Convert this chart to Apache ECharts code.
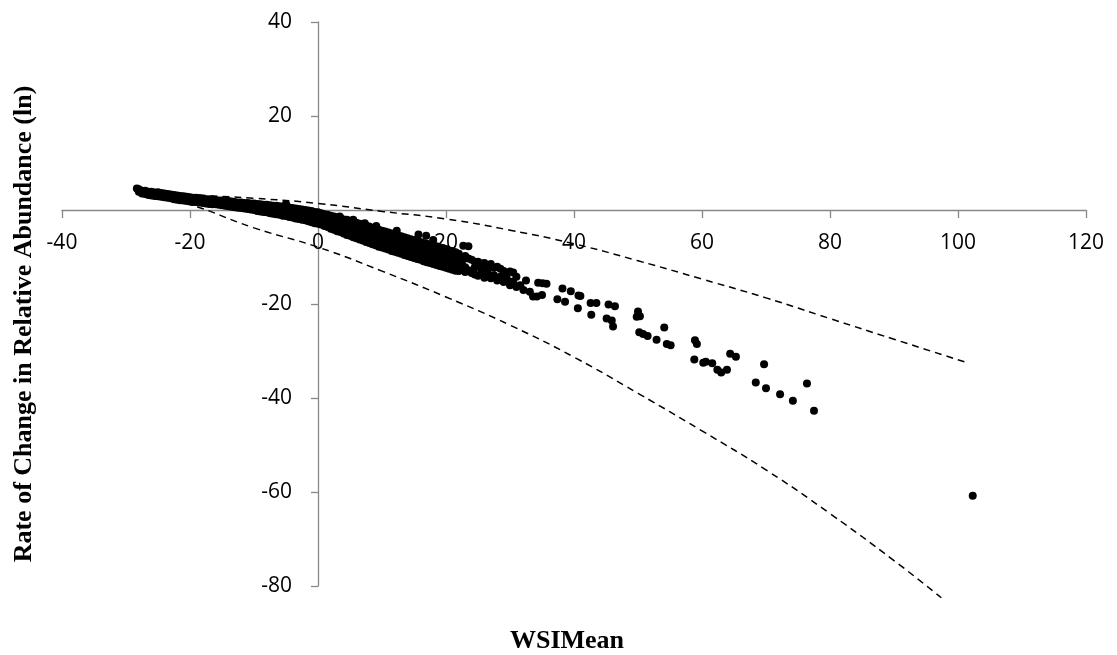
<!DOCTYPE html>
<html>
<head>
<meta charset="utf-8">
<script src="https://cdn.jsdelivr.net/npm/echarts@6/dist/echarts.min.js"></script>
<style>html,body{margin:0;padding:0;background:#fff}#c{width:1117px;height:655px}</style>
</head>
<body>
<div id="c"></div>
<script>
// ---- data ----
const xTicks = [-40, -20, 0, 20, 40, 60, 80, 100, 120];
const yTicks = [-80, -60, -40, -20, 0, 20, 40];
const xTitle = 'WSIMean';
const yTitle = 'Rate of Change in Relative Abundance (ln)';

// dense band: each row = [x, y1, y2, ...]
const bandColumns = [
  [-28.3, 4.6],
  [-28.0, 4.4, 3.9], [-27.5, 4.1, 3.5], [-27.0, 4.1, 3.4, 3.8], [-26.5, 3.9, 3.2],
  [-26.0, 3.9, 3.1, 3.5], [-25.5, 3.7, 3.0], [-25.0, 3.8, 2.9, 3.3], [-24.5, 3.6, 2.8],
  [-24.0, 3.5, 2.7, 3.1], [-23.5, 3.4, 2.6], [-23.0, 3.3, 2.5, 2.9], [-22.5, 3.2, 2.3],
  [-22.0, 3.1, 2.2, 2.7], [-21.5, 3.0, 2.1], [-21.0, 2.9, 2.0, 2.5], [-20.5, 2.8, 1.9],
  [-20.0, 2.7, 1.8, 2.3], [-19.5, 2.6, 1.7], [-19.0, 2.6, 1.7, 2.1], [-18.5, 2.5, 1.6],
  [-18.0, 2.4, 1.5, 2.0], [-17.5, 2.3, 1.4], [-17.0, 2.3, 1.3, 1.8], [-16.5, 2.2, 1.2],
  [-16.0, 2.1, 1.2, 1.7], [-15.5, 2.0, 1.1], [-15.0, 2.0, 1.0, 1.5], [-14.5, 1.9, 0.9],
  [-14.0, 1.9, 0.8, 1.4], [-13.5, 1.8, 0.7], [-13.0, 1.7, 0.6, 1.2], [-12.5, 1.6, 0.5],
  [-12.0, 1.6, 0.4, 1.0], [-11.5, 1.5, 0.3], [-11.0, 1.5, 0.2, 0.9], [-10.5, 1.4, 0.1, 0.8],
  [-10.0, 1.4, 0.0, 0.7], [-9.5, 1.3, -0.2, 0.6], [-9.0, 1.2, -0.3, 0.5], [-8.5, 1.1, -0.4, 0.4],
  [-8.0, 1.1, -0.5, 0.3], [-7.5, 1.0, -0.7, 0.2], [-7.0, 0.9, -0.8, 0.1], [-6.5, 0.9, -0.9, 0.0],
  [-6.0, 0.8, -1.0, -0.1], [-5.5, 0.7, -1.2, -0.3], [-5.0, 0.6, -1.3, -0.4], [-4.5, 0.5, -1.5, -0.5],
  [-4.0, 0.4, -1.6, -0.6, -1.1], [-3.5, 0.3, -1.8, -0.7, -1.3], [-3.0, 0.2, -1.9, -0.9, -1.4],
  [-2.5, 0.1, -2.1, -1.0, -1.6], [-2.0, 0.0, -2.2, -1.1, -1.7], [-1.5, -0.1, -2.4, -1.3, -1.9],
  [-1.0, -0.2, -2.6, -1.4, -2.0], [-0.5, -0.4, -2.8, -1.6, -2.2], [0.0, -0.5, -2.9, -1.3, -2.1],
  [0.5, -0.7, -3.1, -1.5, -2.3], [1.0, -0.9, -3.4, -1.7, -2.6], [1.5, -1.0, -3.6, -1.9, -2.8],
  [2.0, -1.2, -4.0, -2.1, -3.1], [2.5, -1.4, -4.2, -2.3, -3.3], [3.0, -1.6, -4.5, -2.6, -3.6],
  [3.5, -1.7, -4.7, -2.7, -3.8], [4.0, -2.0, -5.0, -3.0, -4.0], [4.5, -2.1, -5.3, -3.2, -4.3],
  [5.0, -2.3, -5.5, -3.4, -4.5], [5.5, -2.5, -5.8, -3.6, -4.8], [6.0, -2.7, -6.0, -3.8, -5.0],
  [6.5, -2.9, -6.3, -4.0, -5.2], [7.0, -3.1, -6.5, -4.3, -5.4], [7.5, -3.3, -6.8, -4.5, -5.7],
  [8.0, -3.5, -7.0, -4.7, -5.9], [8.5, -3.8, -7.3, -4.9, -6.2], [9.0, -4.0, -7.5, -5.1, -6.4],
  [9.5, -4.2, -7.8, -5.4, -6.7], [10.0, -4.4, -8.0, -5.6, -6.9], [10.5, -4.6, -8.2, -5.8, -7.1],
  [11.0, -4.8, -8.4, -6.0, -7.3], [11.5, -5.0, -8.7, -6.3, -7.6], [12.0, -5.2, -8.9, -6.5, -7.8],
  [12.5, -5.4, -9.1, -6.7, -8.0], [13.0, -5.6, -9.3, -6.9, -8.2], [13.5, -5.8, -9.6, -7.1, -8.5],
  [14.0, -6.0, -9.8, -7.3, -8.7], [14.5, -6.2, -10.0, -7.5, -8.9], [15.0, -6.4, -10.2, -7.7, -9.1],
  [15.5, -6.6, -10.4, -7.9, -9.3], [16.0, -6.8, -10.6, -8.1, -9.5], [16.5, -7.0, -10.9, -8.3, -9.7],
  [17.0, -7.2, -11.1, -8.5, -9.9], [17.5, -7.4, -11.3, -8.7, -10.1], [18.0, -7.5, -11.5, -8.9, -10.3],
  [18.5, -7.7, -11.7, -9.1, -10.5], [19.0, -7.9, -11.9, -9.3, -10.7], [19.5, -8.1, -12.1, -9.5, -10.9],
  [20.0, -8.3, -12.3, -9.7, -11.1], [20.5, -8.6, -12.5, -9.9, -11.3], [21.0, -8.8, -12.7, -10.1, -11.5],
  [21.5, -9.0, -12.9, -10.3, -11.7], [22.0, -9.3, -13.0, -10.6, -11.9],
  [22.5, -11.0, -12.6], [23.0, -9.8, -12.2, -13.2], [23.5, -10.3, -12.8], [24.0, -10.6, -13.4],
  [24.5, -11.0, -12.2, -13.7], [25.0, -11.0, -14.0], [25.5, -11.4, -12.6], [26.0, -11.3, -13.8, -14.4],
  [26.5, -11.9, -13.2], [27.0, -11.5, -14.5], [27.5, -12.3, -13.9], [28.0, -12.1, -15.0],
  [28.5, -12.5, -14.2], [29.0, -13.0, -15.3], [29.5, -13.5, -14.6], [30.0, -13.1, -16.0],
  [30.5, -13.3, -15.2], [31.0, -14.2, -16.4], [31.6, -16.0], [32.1, -17.0], [32.5, -15.0],
  [33.1, -17.4], [33.6, -18.4], [34.2, -18.4], [34.4, -15.5], [35.0, -18.1], [35.1, -15.6],
  [35.7, -15.7]
];

// scattered points above the band and in the sparse tail: [x, y]
const loosePoints = [
  [-5.0, 1.2], [3.4, -1.4], [5.5, -2.1], [7.3, -2.8], [9.1, -3.4], [12.3, -4.4],
  [15.7, -5.2], [16.9, -5.5], [18.0, -6.4], [22.7, -7.6], [23.5, -7.7],
  [37.4, -19.0], [38.2, -16.7], [38.6, -19.5], [39.5, -17.3], [40.7, -18.2], [41.0, -18.3],
  [40.6, -20.9], [42.6, -19.8], [43.5, -19.8], [42.7, -22.3], [45.4, -20.1], [46.4, -20.5],
  [45.1, -23.1], [45.9, -23.5], [46.1, -24.8], [50.0, -21.6], [49.8, -22.7], [50.3, -22.6],
  [50.2, -26.0], [50.8, -26.4], [51.5, -26.8], [52.9, -27.6], [54.1, -25.0], [54.5, -28.5],
  [55.1, -28.8], [58.9, -27.7], [59.2, -28.5], [58.8, -31.8], [60.2, -32.5], [60.6, -32.3],
  [61.6, -32.6], [62.4, -34.0], [63.0, -34.6], [63.9, -34.0], [64.4, -30.6], [65.3, -31.2],
  [68.4, -36.7], [69.7, -32.8], [70.0, -37.9], [72.2, -39.2], [74.2, -40.6], [76.4, -36.9],
  [77.5, -42.7], [102.3, -60.8]
];

// prediction bounds (dashed)
const upperX = [-28, -24, -20, -10, 0, 10, 20, 30, 40, 50, 60, 70, 80, 90, 101];
const upperY = [4.3, 3.9, 3.3, 2.5, 1.4, -0.3, -1.9, -4.3, -7.2, -10.8, -14.7, -18.7, -23.1, -27.5, -32.3];
const lowerX = [-28, -20.5, -10, 0, 10, 20, 30, 40, 50, 60, 70, 80, 90, 97.4];
const lowerY = [3.8, 1.4, -3.8, -7.9, -13.0, -18.5, -24.5, -31.3, -39.0, -47.0, -55.3, -64.6, -74.6, -82.5];

// ---- build series data ----
const scatterData = [];
bandColumns.forEach(col => { for (let i = 1; i < col.length; i++) scatterData.push([col[0], col[i]]); });
loosePoints.forEach(p => scatterData.push(p));
const upperData = upperX.map((x, i) => [x, upperY[i]]);
const lowerData = lowerX.map((x, i) => [x, lowerY[i]]);

const axisColor = '#898989';
const labelFont = { fontFamily: 'Open Sans', fontSize: 21, color: '#000' };

const dom = document.getElementById('c');
const chart = echarts.init(dom, null, { renderer: 'canvas' });
const gridBox = { left: 62, right: 31, top: 22, bottom: 69 };
const plotW = 1117 - gridBox.left - gridBox.right;
const plotH = 655 - gridBox.top - gridBox.bottom;
const xMin = xTicks[0], xMax = xTicks[xTicks.length - 1];
const yMin = yTicks[0], yMax = yTicks[yTicks.length - 1];
// shift axes so they cross at zero (axis labels follow)
const yAxisShift = -plotW * (0 - xMin) / (xMax - xMin);
const xAxisShift = -plotH * (0 - yMin) / (yMax - yMin);

chart.setOption({
  animation: false,
  backgroundColor: '#fff',
  grid: Object.assign({ containLabel: false }, gridBox),
  xAxis: {
    type: 'value', min: xMin, max: xMax, interval: 20, offset: xAxisShift,
    axisLine: { onZero: false, lineStyle: { color: axisColor, width: 1.3 } },
    axisTick: { show: true, length: 8, lineStyle: { color: axisColor, width: 1.3 } },
    axisLabel: Object.assign({ margin: 23 }, labelFont),
    splitLine: { show: false }
  },
  yAxis: {
    type: 'value', min: yMin, max: yMax, interval: 20, offset: yAxisShift,
    axisLine: { onZero: false, lineStyle: { color: axisColor, width: 1.3 } },
    axisTick: { show: true, length: 7, lineStyle: { color: axisColor, width: 1.3 } },
    axisLabel: Object.assign({ margin: 26 }, labelFont),
    splitLine: { show: false }
  },
  series: [
    { type: 'line', data: upperData, smooth: true, showSymbol: false, clip: false,
      lineStyle: { color: '#000', width: 1.5, type: [7, 5] }, z: 2 },
    { type: 'line', data: lowerData, smooth: true, showSymbol: false, clip: false,
      lineStyle: { color: '#000', width: 1.5, type: [7, 5] }, z: 2 },
    { type: 'scatter', data: scatterData, symbol: 'circle', symbolSize: 8,
      itemStyle: { color: '#000', opacity: 1 }, z: 3 }
  ],
  graphic: [
    { type: 'text', x: 24, y: 324, rotation: Math.PI / 2,
      style: { text: yTitle, font: 'bold 26px "Liberation Serif"', fill: '#000',
               align: 'center', verticalAlign: 'middle', textAlign: 'center', textVerticalAlign: 'middle' } },
    { type: 'text', x: 567, y: 641,
      style: { text: xTitle, font: 'bold 26px "Liberation Serif"', fill: '#000',
               align: 'center', verticalAlign: 'middle', textAlign: 'center', textVerticalAlign: 'middle' } }
  ]
});
</script>
</body>
</html>
